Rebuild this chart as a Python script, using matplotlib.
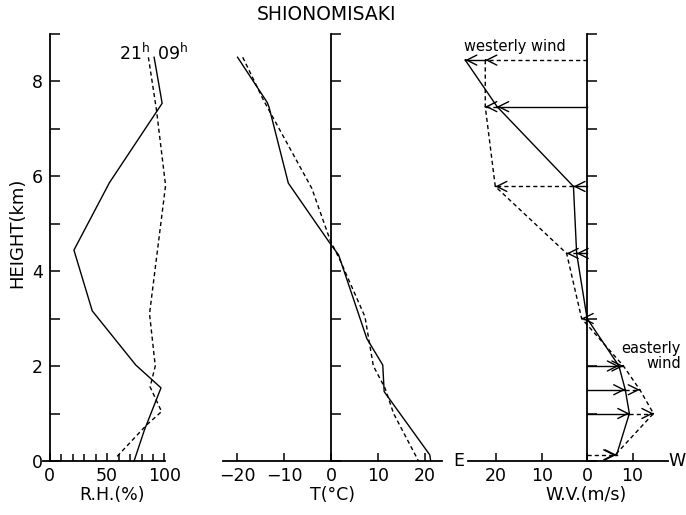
import numpy as np
import matplotlib.pyplot as plt
from matplotlib.ticker import MultipleLocator

plt.rcParams['font.family'] = ['DejaVu Sans']

# --- datos (altura en km) ---
rh_09_h = [8.5, 7.53, 5.86, 4.44, 3.16, 2.02, 1.54, 0.65, 0.0]
rh_09 = [91, 98, 52, 21, 37, 75, 97, 82.5, 73.5]
rh_21_h = [8.5, 7.4, 5.8, 3.1, 2.0, 1.56, 1.04, 0.76, 0.13, 0.05]
rh_21 = [86, 93, 101, 87, 92, 87.5, 97.5, 84.5, 60, 57]

t_09_h = [8.5, 7.55, 7.45, 5.85, 4.55, 4.34, 2.58, 2.02, 1.46, 0.13, 0.0]
t_09 = [-19.9, -13.6, -13.2, -9.1, 0.0, 1.6, 7.6, 11.0, 11.3, 21.0, 21.2]
t_21_h = [8.5, 7.6, 5.74, 4.65, 4.23, 3.04, 2.0, 1.53, 1.0, 0.0]
t_21 = [-18.8, -14.4, -4.1, -0.2, 1.9, 7.2, 9.0, 11.5, 13.3, 18.6]

# viento: negativo = hacia la izquierda (westerly), positivo = easterly
wind_h = [8.44, 7.46, 5.78, 4.37, 3.0, 2.0, 1.5, 1.0, 0.13]
wind_09 = [-26.8, -19.8, -3.0, -2.3, 0.0, 7.0, 8.4, 9.3, 6.5]
wind_21 = [-22.4, -22.4, -20.2, -4.5, -1.2, 8.0, 11.6, 14.6, 6.2]

rh_ticks = [0, 50, 100]
t_ticks = [-20, -10, 0, 10, 20]
wv_ticks = [-20, -10, 0, 10]
wv_labels = ['20', '10', '0', '10']
h_labels = ['0', '', '2', '', '4', '', '6', '', '8', '']

SOLID = '-'
DASHED = (0, (3, 2.2))
FS = 12.5

W, H = 686, 515
fig = plt.figure(figsize=(W / 100, H / 100), dpi=100)


def caja(x0, x1):
    return [x0 / W, (H - 461) / H, (x1 - x0) / W, (461 - 33.5) / H]


def px(x, y):
    return x / W, 1 - y / H


ax1 = fig.add_axes(caja(43, 165))
ax2 = fig.add_axes(caja(223, 441.5))
ax3 = fig.add_axes(caja(468, 668))

for ax in (ax1, ax2, ax3):
    ax.set_ylim(0, 9)
    ax.spines[['top', 'right']].set_visible(False)
    ax.spines['left'].set_position(('data', 0))
    for s in ax.spines.values():
        s.set_linewidth(1.3)
    ax.set_yticks(range(10))
    ax.tick_params(direction='in', length=7, width=1.1, labelsize=FS)
    ax.tick_params(axis='x', pad=4, length=6)
    ax.patch.set_visible(False)

# 1. Humedad relativa
ax1.set_xlim(-6, 100.5)
ax1.set_xticks(rh_ticks)
ax1.xaxis.set_minor_locator(MultipleLocator(10))
ax1.tick_params(axis='x', which='minor', direction='in', length=5, width=1.1)
ax1.set_yticklabels(h_labels)
ax1.tick_params(axis='y', pad=5)
ax1.plot(rh_09, rh_09_h, color='k', lw=1.0, ls=SOLID, clip_on=False)
ax1.plot(rh_21, rh_21_h, color='k', lw=1.0, ls=DASHED, clip_on=False)

# 2. Temperatura
ax2.set_xlim(-23, 23.5)
ax2.set_xticks(t_ticks)
ax2.set_xticklabels([str(v).replace('-', '\u2212') for v in t_ticks])
ax2.tick_params(axis='y', labelleft=False)
ax2.plot(t_09, t_09_h, color='k', lw=1.0, ls=SOLID, clip_on=False)
ax2.plot(t_21, t_21_h, color='k', lw=1.0, ls=DASHED, clip_on=False)

# 3. Viento
ax3.set_xlim(-26.2, 17.8)
ax3.set_xticks(wv_ticks)
ax3.set_xticklabels(wv_labels)
ax3.tick_params(axis='y', labelleft=False)
ax3.plot(wind_09, wind_h, color='k', lw=1.0, ls=SOLID, clip_on=False)
ax3.plot(wind_21, wind_h, color='k', lw=1.0, ls=DASHED, clip_on=False)

head = dict(arrowstyle='->,head_length=0.6,head_width=0.3', color='k',
            lw=1.0, shrinkA=0, shrinkB=0, mutation_scale=12)
for h, u9, u21 in zip(wind_h, wind_09, wind_21):
    pares = sorted([(u9, SOLID), (u21, DASHED)], key=lambda p: abs(p[0]))
    (ui, lsi), (uo, lso) = pares
    ax3.plot([0, ui], [h, h], color='k', lw=1.0, ls=lsi, clip_on=False)
    ax3.plot([ui, uo], [h, h], color='k', lw=1.0, ls=lso, clip_on=False)
    for u in (u9, u21):
        if abs(u) < 0.5:
            continue
        ax3.annotate('', xy=(u, h), xytext=(u - np.sign(u) * 0.05, h),
                     arrowprops=head, annotation_clip=False)

# textos
fig.text(*px(326, 14), 'SHIONOMISAKI', ha='center', va='center', fontsize=13.5)
fig.text(*px(17, 233), 'HEIGHT(km)', rotation=90, ha='center', va='center',
         fontsize=13)
fig.text(*px(112, 495), 'R.H.(%)', ha='center', va='center', fontsize=FS)
fig.text(*px(333, 495), 'T(°C)', ha='center', va='center', fontsize=FS)
fig.text(*px(586, 495), 'W.V.(m/s)', ha='center', va='center', fontsize=FS)
fig.text(*px(135, 53), '21$^{\\mathrm{h}}$', ha='center', va='center',
         fontsize=FS)
fig.text(*px(173, 53), '09$^{\\mathrm{h}}$', ha='center', va='center',
         fontsize=FS)
fig.text(*px(515, 46), 'westerly wind', ha='center', va='center', fontsize=10.5)
fig.text(*px(681, 348), 'easterly', ha='right', va='center', fontsize=10.5)
fig.text(*px(681, 363), 'wind', ha='right', va='center', fontsize=10.5)
fig.text(*px(459, 461), 'E', ha='center', va='center', fontsize=FS)
fig.text(*px(677, 461), 'W', ha='center', va='center', fontsize=FS)

fig.savefig('out.png', dpi=100)
